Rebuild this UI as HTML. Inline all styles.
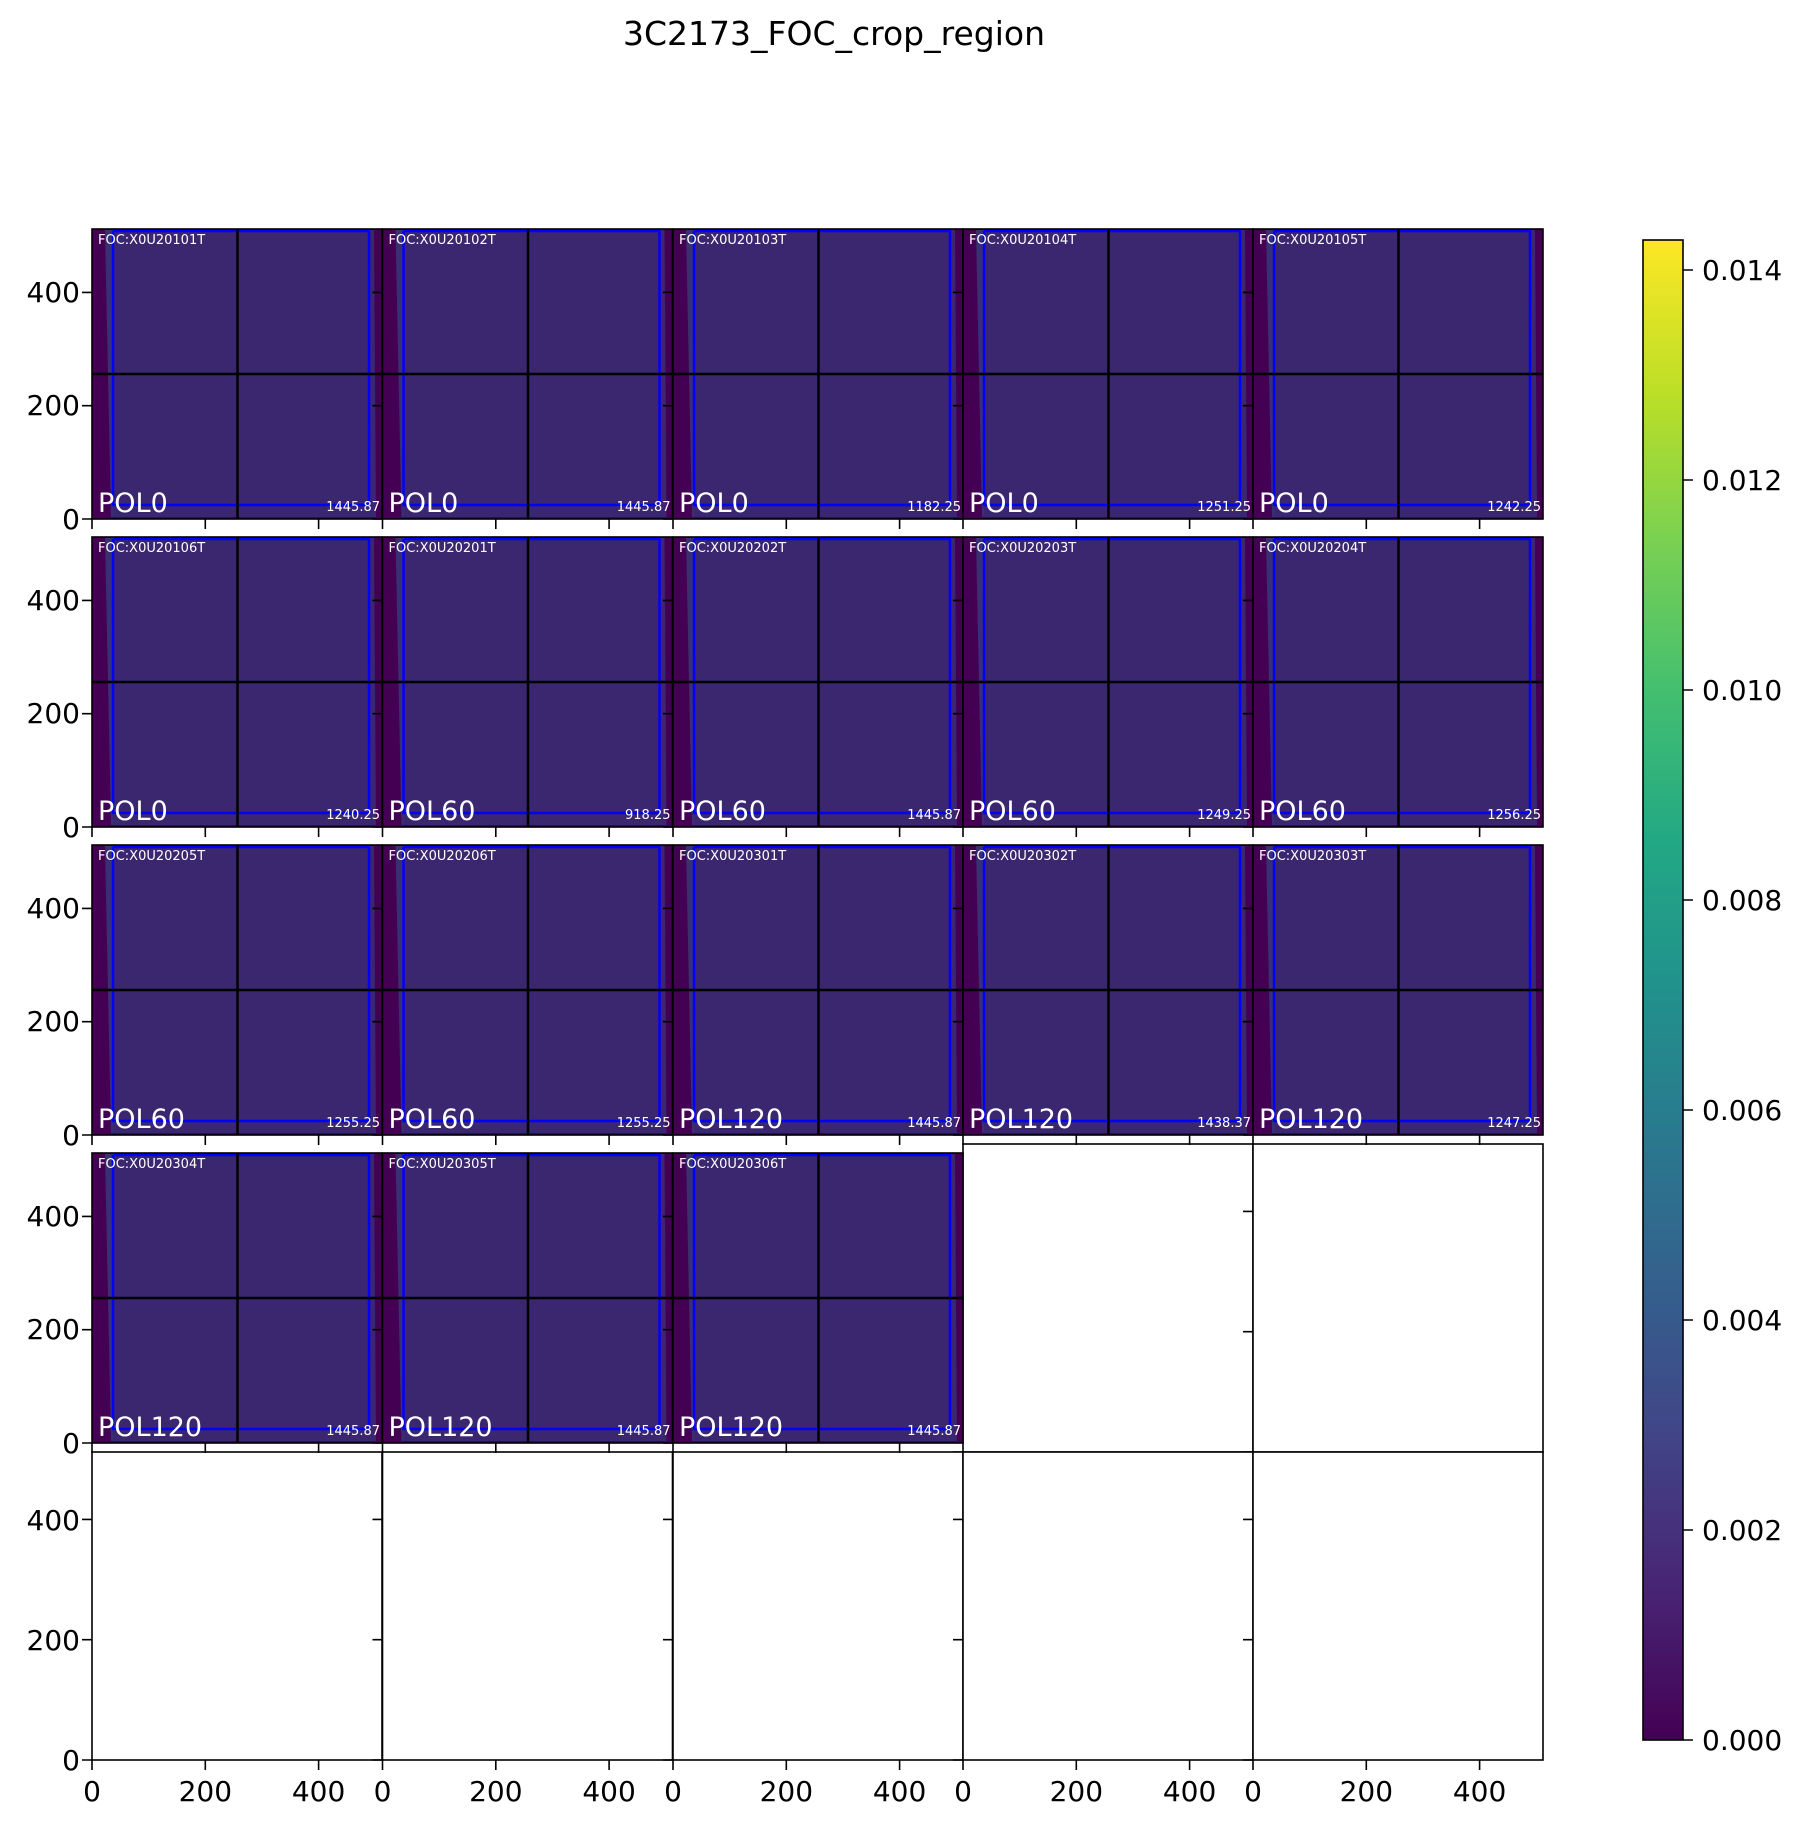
<!DOCTYPE html>
<html><head><meta charset="utf-8"><style>
html,body{margin:0;padding:0;background:#fff;}
svg{display:block;font-family:"DejaVu Sans","Liberation Sans",sans-serif;}
</style></head><body>
<svg width="1801" height="1827" viewBox="0 0 1801 1827" xmlns="http://www.w3.org/2000/svg">
<defs>
<linearGradient id="vir" x1="0" y1="1" x2="0" y2="0">
<stop offset="0" stop-color="#440154"/><stop offset="0.1" stop-color="#482475"/><stop offset="0.2" stop-color="#414487"/><stop offset="0.3" stop-color="#355f8d"/><stop offset="0.4" stop-color="#2a788e"/><stop offset="0.5" stop-color="#21918c"/><stop offset="0.6" stop-color="#22a884"/><stop offset="0.7" stop-color="#44bf70"/><stop offset="0.8" stop-color="#7ad151"/><stop offset="0.9" stop-color="#bddf26"/><stop offset="1" stop-color="#fde725"/>
</linearGradient>
<g id="img">
<rect x="0" y="0" width="290" height="290" fill="#440154"/>
<polygon points="13,1 282,1 284,288 19,288" fill="#3b2670"/>
<polygon points="13,1 21,1 21,288 19,288" fill="#33507a" opacity="0.25"/>
<path d="M21,2V276H277V2H21" fill="none" stroke="#0000ff" stroke-width="2.5"/>
<path d="M145.5,0V290M0,145H290" stroke="#000" stroke-width="2.5"/>
<rect x="0" y="0" width="290" height="290" fill="none" stroke="#000" stroke-width="1.6"/>
<path d="M0,290h-10M0,176.7h-10M0,63.4h-10M0,290v10M113.3,290v10M226.6,290v10" stroke="#000" stroke-width="1.6"/>
</g>
<g id="emp">
<rect x="0" y="0" width="290" height="308" fill="#fff" stroke="#000" stroke-width="1.6"/>
<path d="M0,308h-10M0,187.7h-10M0,67.4h-10M0,308v10M113.3,308v10M226.6,308v10" stroke="#000" stroke-width="1.6"/>
</g>
</defs>

<text x="834" y="45" font-size="33" text-anchor="middle">3C2173_FOC_crop_region</text>

<g font-size="28" text-anchor="end">
<text x="80" y="302">400</text><text x="80" y="415">200</text><text x="80" y="529">0</text>
<text x="80" y="610">400</text><text x="80" y="723">200</text><text x="80" y="837">0</text>
<text x="80" y="918">400</text><text x="80" y="1031">200</text><text x="80" y="1145">0</text>
<text x="80" y="1226">400</text><text x="80" y="1339">200</text><text x="80" y="1453">0</text>
<text x="80" y="1530">400</text><text x="80" y="1650">200</text><text x="80" y="1770">0</text>
</g>

<use href="#emp" x="963" y="1144"/><use href="#emp" x="1253" y="1144"/>
<use href="#emp" x="92" y="1452"/><use href="#emp" x="382.5" y="1452"/><use href="#emp" x="673" y="1452"/><use href="#emp" x="963" y="1452"/><use href="#emp" x="1253" y="1452"/>

<g transform="translate(92,229)"><use href="#img"/><text x="6" y="15" font-size="13" fill="#fff">FOC:X0U20101T</text><text x="6" y="283" font-size="27" fill="#fff">POL0</text><text x="288" y="282" font-size="13" fill="#fff" text-anchor="end">1445.87</text></g>
<g transform="translate(382.5,229)"><use href="#img"/><text x="6" y="15" font-size="13" fill="#fff">FOC:X0U20102T</text><text x="6" y="283" font-size="27" fill="#fff">POL0</text><text x="288" y="282" font-size="13" fill="#fff" text-anchor="end">1445.87</text></g>
<g transform="translate(673,229)"><use href="#img"/><text x="6" y="15" font-size="13" fill="#fff">FOC:X0U20103T</text><text x="6" y="283" font-size="27" fill="#fff">POL0</text><text x="288" y="282" font-size="13" fill="#fff" text-anchor="end">1182.25</text></g>
<g transform="translate(963,229)"><use href="#img"/><text x="6" y="15" font-size="13" fill="#fff">FOC:X0U20104T</text><text x="6" y="283" font-size="27" fill="#fff">POL0</text><text x="288" y="282" font-size="13" fill="#fff" text-anchor="end">1251.25</text></g>
<g transform="translate(1253,229)"><use href="#img"/><text x="6" y="15" font-size="13" fill="#fff">FOC:X0U20105T</text><text x="6" y="283" font-size="27" fill="#fff">POL0</text><text x="288" y="282" font-size="13" fill="#fff" text-anchor="end">1242.25</text></g>
<g transform="translate(92,537)"><use href="#img"/><text x="6" y="15" font-size="13" fill="#fff">FOC:X0U20106T</text><text x="6" y="283" font-size="27" fill="#fff">POL0</text><text x="288" y="282" font-size="13" fill="#fff" text-anchor="end">1240.25</text></g>
<g transform="translate(382.5,537)"><use href="#img"/><text x="6" y="15" font-size="13" fill="#fff">FOC:X0U20201T</text><text x="6" y="283" font-size="27" fill="#fff">POL60</text><text x="288" y="282" font-size="13" fill="#fff" text-anchor="end">918.25</text></g>
<g transform="translate(673,537)"><use href="#img"/><text x="6" y="15" font-size="13" fill="#fff">FOC:X0U20202T</text><text x="6" y="283" font-size="27" fill="#fff">POL60</text><text x="288" y="282" font-size="13" fill="#fff" text-anchor="end">1445.87</text></g>
<g transform="translate(963,537)"><use href="#img"/><text x="6" y="15" font-size="13" fill="#fff">FOC:X0U20203T</text><text x="6" y="283" font-size="27" fill="#fff">POL60</text><text x="288" y="282" font-size="13" fill="#fff" text-anchor="end">1249.25</text></g>
<g transform="translate(1253,537)"><use href="#img"/><text x="6" y="15" font-size="13" fill="#fff">FOC:X0U20204T</text><text x="6" y="283" font-size="27" fill="#fff">POL60</text><text x="288" y="282" font-size="13" fill="#fff" text-anchor="end">1256.25</text></g>
<g transform="translate(92,845)"><use href="#img"/><text x="6" y="15" font-size="13" fill="#fff">FOC:X0U20205T</text><text x="6" y="283" font-size="27" fill="#fff">POL60</text><text x="288" y="282" font-size="13" fill="#fff" text-anchor="end">1255.25</text></g>
<g transform="translate(382.5,845)"><use href="#img"/><text x="6" y="15" font-size="13" fill="#fff">FOC:X0U20206T</text><text x="6" y="283" font-size="27" fill="#fff">POL60</text><text x="288" y="282" font-size="13" fill="#fff" text-anchor="end">1255.25</text></g>
<g transform="translate(673,845)"><use href="#img"/><text x="6" y="15" font-size="13" fill="#fff">FOC:X0U20301T</text><text x="6" y="283" font-size="27" fill="#fff">POL120</text><text x="288" y="282" font-size="13" fill="#fff" text-anchor="end">1445.87</text></g>
<g transform="translate(963,845)"><use href="#img"/><text x="6" y="15" font-size="13" fill="#fff">FOC:X0U20302T</text><text x="6" y="283" font-size="27" fill="#fff">POL120</text><text x="288" y="282" font-size="13" fill="#fff" text-anchor="end">1438.37</text></g>
<g transform="translate(1253,845)"><use href="#img"/><text x="6" y="15" font-size="13" fill="#fff">FOC:X0U20303T</text><text x="6" y="283" font-size="27" fill="#fff">POL120</text><text x="288" y="282" font-size="13" fill="#fff" text-anchor="end">1247.25</text></g>
<g transform="translate(92,1153)"><use href="#img"/><text x="6" y="15" font-size="13" fill="#fff">FOC:X0U20304T</text><text x="6" y="283" font-size="27" fill="#fff">POL120</text><text x="288" y="282" font-size="13" fill="#fff" text-anchor="end">1445.87</text></g>
<g transform="translate(382.5,1153)"><use href="#img"/><text x="6" y="15" font-size="13" fill="#fff">FOC:X0U20305T</text><text x="6" y="283" font-size="27" fill="#fff">POL120</text><text x="288" y="282" font-size="13" fill="#fff" text-anchor="end">1445.87</text></g>
<g transform="translate(673,1153)"><use href="#img"/><text x="6" y="15" font-size="13" fill="#fff">FOC:X0U20306T</text><text x="6" y="283" font-size="27" fill="#fff">POL120</text><text x="288" y="282" font-size="13" fill="#fff" text-anchor="end">1445.87</text></g>

<g font-size="28" text-anchor="middle">
<text x="92" y="1801">0</text><text x="205.3" y="1801">200</text><text x="318.6" y="1801">400</text>
<text x="382.5" y="1801">0</text><text x="495.8" y="1801">200</text><text x="609.1" y="1801">400</text>
<text x="673" y="1801">0</text><text x="786.3" y="1801">200</text><text x="899.6" y="1801">400</text>
<text x="963" y="1801">0</text><text x="1076.3" y="1801">200</text><text x="1189.6" y="1801">400</text>
<text x="1253" y="1801">0</text><text x="1366.3" y="1801">200</text><text x="1479.6" y="1801">400</text>
</g>

<rect x="1643" y="240" width="40" height="1500" fill="url(#vir)" stroke="#000" stroke-width="1.6"/>
<path d="M1683,1740h10M1683,1530h10M1683,1320h10M1683,1110h10M1683,900h10M1683,690h10M1683,480h10M1683,270h10" stroke="#000" stroke-width="1.6"/>
<g font-size="28">
<text x="1702" y="1750">0.000</text><text x="1702" y="1540">0.002</text><text x="1702" y="1330">0.004</text><text x="1702" y="1120">0.006</text><text x="1702" y="910">0.008</text><text x="1702" y="700">0.010</text><text x="1702" y="490">0.012</text><text x="1702" y="280">0.014</text>
</g>
</svg>
</body></html>
